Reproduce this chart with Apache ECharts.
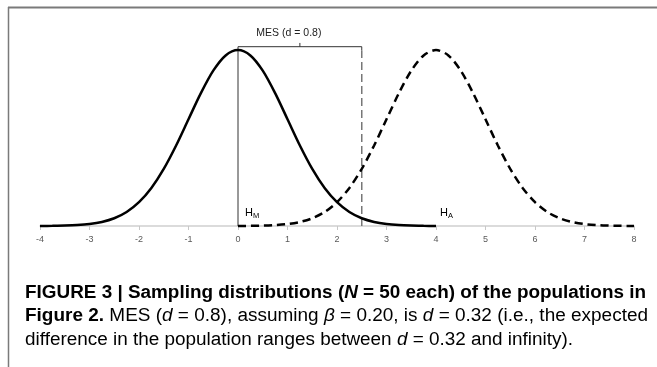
<!DOCTYPE html>
<html><head><meta charset="utf-8">
<script src="https://cdn.jsdelivr.net/npm/echarts@6/dist/echarts.min.js"></script>
<style>html,body{margin:0;padding:0;background:#fff}#c{width:657px;height:367px}</style>
</head><body><div id="c"></div>
<script>
// ---- data ----
const xMin = -4, xMax = 8;
const solidX = [-4,-3.75,-3.5,-3.25,-3,-2.75,-2.5,-2.25,-2,-1.75,-1.5,-1.25,-1,-0.75,-0.5,-0.25,0,0.25,0.5,0.75,1,1.25,1.5,1.75,2,2.25,2.5,2.75,3,3.25,3.5,3.75,4];
const solidY = [0.0001,0.0004,0.0009,0.0020,0.0044,0.0091,0.0175,0.0317,0.0540,0.0863,0.1295,0.1826,0.2420,0.3011,0.3521,0.3867,0.3989,0.3867,0.3521,0.3011,0.2420,0.1826,0.1295,0.0863,0.0540,0.0317,0.0175,0.0091,0.0044,0.0020,0.0009,0.0004,0.0001];
const dashX = [0,0.25,0.5,0.75,1,1.25,1.5,1.75,2,2.25,2.5,2.75,3,3.25,3.5,3.75,4,4.25,4.5,4.75,5,5.25,5.5,5.75,6,6.25,6.5,6.75,7,7.25,7.5,7.75,8];
const dashY = [0.0001,0.0004,0.0009,0.0020,0.0044,0.0091,0.0175,0.0317,0.0540,0.0863,0.1295,0.1826,0.2420,0.3011,0.3521,0.3867,0.3989,0.3867,0.3521,0.3011,0.2420,0.1826,0.1295,0.0863,0.0540,0.0317,0.0175,0.0091,0.0044,0.0020,0.0009,0.0004,0.0001];
const hmX = 0, haX = 4;          // hypothesis means
const mesX = 2.5;                // MES cut-off on the axis
const bracketTop = 0.4065, bracketEnd = 0.398, bracketMidX = 1.25, bracketMidTop = 0.415;
const mesLabel = 'MES (d = 0.8)';
const captionLines = [
  [['FIGURE 3 | Sampling distributions (','b'],['N','bi'],[' = 50 each) of the populations in','b']],
  [['Figure 2.','b'],[' MES (','r'],['d','i'],[' = 0.8), assuming ','r'],['β','i'],[' = 0.20, is ','r'],['d','i'],[' = 0.32 (i.e., the expected','r']],
  [['difference in the population ranges between ','r'],['d','i'],[' = 0.32 and infinity).','r']]
];

// ---- chart ----
const chart = echarts.init(document.getElementById('c'), null, {renderer:'canvas'});
const pair = (xs, ys) => xs.map((x,i)=>[x, ys[i]]);
const FF = 'Liberation Sans, Arial, sans-serif';
const option = {
  animation:false,
  grid:{left:40,right:23,top:27.5,bottom:141},
  xAxis:{type:'value',min:xMin,max:xMax,interval:1,
    axisLine:{lineStyle:{color:'#d0d0d0',width:1.5}},
    axisTick:{show:true,length:4,lineStyle:{color:'#c8c8c8'}},
    splitLine:{show:false},
    axisLabel:{color:'#595959',fontSize:9,fontFamily:FF,margin:9}},
  yAxis:{type:'value',min:0,max:0.45,show:false,splitLine:{show:false}},
  series:[
    {type:'line',data:pair(solidX,solidY),smooth:0.3,symbol:'none',clip:false,
     lineStyle:{color:'#000',width:2.5},z:5},
    {type:'line',data:pair(dashX,dashY),smooth:0.3,symbol:'none',clip:false,
     lineStyle:{color:'#000',width:2.5,type:[8,5]},z:5},
    {type:'line',data:[[hmX,0],[hmX,bracketTop],[mesX,bracketTop],[mesX,bracketEnd]],symbol:'none',clip:false,
     lineStyle:{color:'#333',width:1},z:4},
    {type:'line',data:[[bracketMidX,bracketTop],[bracketMidX,bracketMidTop]],symbol:'none',clip:false,
     lineStyle:{color:'#333',width:1},z:4},
    {type:'line',data:[[mesX,0],[mesX,bracketEnd]],symbol:'none',clip:false,
     lineStyle:{color:'#777',width:1.5,type:[8,4]},z:3}
  ]
};
chart.setOption(option);

// labels placed via the axes
const p = (x,y)=>chart.convertToPixel({gridIndex:0},[x,y]);
const hm = p(hmX,0), ha = p(haX,0), mes = p(bracketMidX,bracketTop);

// caption measuring
const cv = document.createElement('canvas').getContext('2d');
const FS = 18;
const fontOf = s => (s.includes('i')?'italic ':'')+(s.includes('b')?'bold ':'')+FS+'px '+FF;
function widthOf(line){let w=0;line.forEach(([t,s])=>{cv.font=fontOf(s);w+=cv.measureText(t).width;});return w;}
const capX = 25, capTargets=[621,623,548], capY=[293,316,340];
const rich = {
  b:{fontSize:FS,fontWeight:'bold',fontFamily:FF,color:'#1a1a1a'},
  bi:{fontSize:FS,fontWeight:'bold',fontStyle:'italic',fontFamily:FF,color:'#1a1a1a'},
  r:{fontSize:FS,fontFamily:FF,color:'#333'},
  i:{fontSize:FS,fontStyle:'italic',fontFamily:FF,color:'#333'}
};
const capEls = captionLines.map((line,k)=>({
  type:'text', x:capX, y:capY[k], scaleX: capTargets[k]/widthOf(line), scaleY:1,
  style:{text: line.map(([t,s])=>'{'+s+'|'+t+'}').join(''), rich:rich, verticalAlign:'middle', align:'left'}
}));

const subRich = {h:{fontSize:11,fontFamily:FF,color:'#404040'},s:{fontSize:7.5,fontFamily:FF,color:'#404040',padding:[5,0,0,0]}};
chart.setOption({graphic:[
  {type:'line',shape:{x1:8,y1:7.5,x2:657,y2:7.5},style:{stroke:'#7a7a7a',lineWidth:2}},
  {type:'line',shape:{x1:8.5,y1:7,x2:8.5,y2:367},style:{stroke:'#7a7a7a',lineWidth:1.5}},
  {type:'text',x:mes[0]-11,y:33,style:{text:mesLabel,fontSize:10.5,fontFamily:FF,fill:'#222',align:'center',verticalAlign:'middle'}},
  {type:'text',x:hm[0]+7,y:hm[1]-13,style:{text:'{h|H}{s|M}',rich:subRich,align:'left',verticalAlign:'middle'}},
  {type:'text',x:ha[0]+4,y:ha[1]-13,style:{text:'{h|H}{s|A}',rich:subRich,align:'left',verticalAlign:'middle'}},
  ...capEls
]});
</script></body></html>
